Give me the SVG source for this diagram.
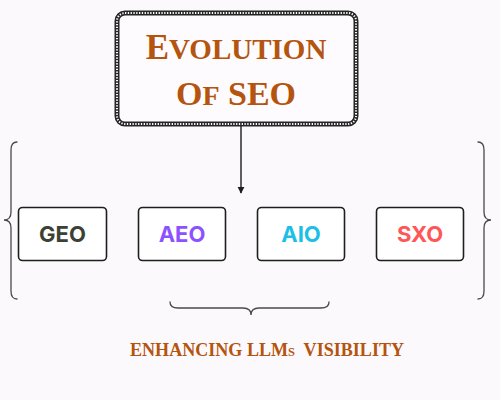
<svg xmlns="http://www.w3.org/2000/svg" width="500" height="400" viewBox="0 0 500 400">
<style>
.box{fill:#ffffff;stroke:#1e1e1e;stroke-width:1.6}
.lbl{font-family:"Inter","Liberation Sans",sans-serif;font-weight:700;font-size:22px;text-anchor:middle}
.title{font-family:"Liberation Serif",serif;font-weight:700;fill:#b4540e}
.brace{fill:none;stroke:#4a4a4a;stroke-width:1.3;stroke-linecap:round}
</style>
<defs>
<marker id="ah" viewBox="0 0 10 10" refX="9" refY="5" markerWidth="7" markerHeight="8" orient="auto" markerUnits="userSpaceOnUse">
<path d="M0,0 L10,5 L0,10 z" fill="#1e1e1e"/>
</marker>
</defs>
<rect width="500" height="400" fill="#fcf9fc"/>
<g id="title">
<rect x="117" y="13" width="239" height="111" rx="8" fill="#fdfbfd" stroke="#262626" stroke-width="5"/>
<rect x="117" y="13" width="239" height="111" rx="8" fill="none" stroke="#ffffff" stroke-width="2" stroke-dasharray="1.3 1.5"/>
<text class="title" x="236" y="59" text-anchor="middle"><tspan font-size="35">E</tspan><tspan font-size="29">VOLUTION</tspan></text>
<text class="title" x="236" y="105" text-anchor="middle"><tspan font-size="34">O</tspan><tspan font-size="28">F</tspan><tspan font-size="34"> SEO</tspan></text>
</g>
<g id="connectors">
<line x1="241" y1="126" x2="241" y2="193" stroke="#1e1e1e" stroke-width="1.4" marker-end="url(#ah)"/>
<path class="brace" d="M17,142 Q11,142 11,150 L11,212 Q11,220 4,220 Q11,220 11,228 L11,291 Q11,299 17,299"/>
<path class="brace" d="M478,142 Q484,142 484,150 L484,212 Q484,220 491,220 Q484,220 484,228 L484,291 Q484,299 478,299"/>
<path class="brace" d="M170,302 Q170,308 178,308 L243,308 Q251,308 251,315 Q251,308 259,308 L321,308 Q329,308 329,302"/>
</g>
<g id="geo">
<rect class="box" x="18.5" y="207.5" width="88" height="53" rx="4"/>
<text class="lbl" x="62.5" y="242" fill="#3b4135">GEO</text>
</g>
<g id="aeo">
<rect class="box" x="138.5" y="207.5" width="87" height="53" rx="4"/>
<text class="lbl" x="182" y="242" fill="#8c52ff">AEO</text>
</g>
<g id="aio">
<rect class="box" x="257.5" y="207.5" width="87" height="53" rx="4"/>
<text class="lbl" x="301" y="242" fill="#1cc0e6">AIO</text>
</g>
<g id="sxo">
<rect class="box" x="376.5" y="207.5" width="87" height="53" rx="4"/>
<text class="lbl" x="420" y="242" fill="#ff5757">SXO</text>
</g>
<g id="caption">
<text class="title" x="130" y="356" font-size="19" font-variant="small-caps" textLength="274" lengthAdjust="spacingAndGlyphs" xml:space="preserve">ENHANCING LLMs  VISIBILITY</text>
</g>
</svg>
